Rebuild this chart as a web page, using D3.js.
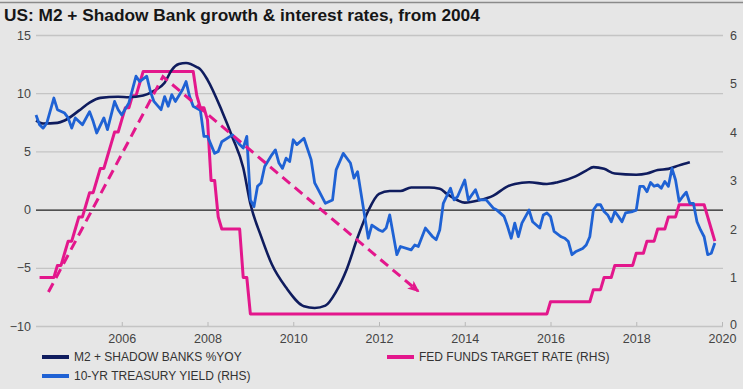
<!DOCTYPE html>
<html>
<head>
<meta charset="utf-8">
<script src="https://cdn.jsdelivr.net/npm/d3@7/dist/d3.min.js"></script>
<style>
  html, body { margin: 0; padding: 0; background: #e6e6e6; }
  svg { display: block; font-family: "Liberation Sans", Arial, sans-serif; }
</style>
</head>
<body>
<svg id="chart" width="743" height="389"></svg>
<script>
// ---- Data -------------------------------------------------------------
// M2 + shadow banks, % year on year (left axis)
const m2Dates = ["2004-01","2004-03","2004-07","2004-09","2005-01","2005-04","2005-07","2005-12",
  "2006-03","2006-07","2006-10","2007-01","2007-03","2007-05","2007-07","2007-10","2007-11",
  "2008-01","2008-05","2008-08","2008-11","2009-01","2009-04","2009-07","2009-11",
  "2010-04","2010-07","2010-10","2011-01","2011-04","2011-07","2011-10",
  "2012-01","2012-04","2012-07","2012-10","2013-03","2013-06","2013-08","2013-11",
  "2014-01","2014-05","2014-09","2015-01","2015-03","2015-07","2015-12",
  "2016-03","2016-08","2016-11","2017-01","2017-04","2017-07",
  "2018-01","2018-04","2018-07","2018-10","2019-01","2019-04"];
const m2Values = [7.65,7.4,7.45,7.65,8.5,9.2,9.6,9.7,
  9.65,9.8,10.2,10.9,12.0,12.5,12.6,12.25,12.05,
  11.15,8.5,6.2,3.6,0.5,-2.3,-4.7,-6.7,
  -8.3,-8.45,-8.25,-7.05,-5.1,-2.4,-0.1,
  1.35,1.6,1.6,1.9,1.9,1.8,1.35,0.8,
  0.6,0.8,1.2,2.0,2.2,2.35,2.2,
  2.35,2.85,3.35,3.65,3.5,3.1,
  3.0,3.1,3.4,3.5,3.8,4.07];

// 10-year Treasury yield, % (right axis)
const tsyDates = ["2004-01","2004-02","2004-03","2004-04","2004-06","2004-07","2004-09","2004-10","2004-11","2004-12",
  "2005-02","2005-04","2005-05","2005-06","2005-08","2005-09","2005-11","2005-12",
  "2006-01","2006-03","2006-05","2006-06","2006-08","2006-09","2006-10","2006-12",
  "2007-01","2007-02","2007-03","2007-04","2007-06","2007-07","2007-08","2007-09","2007-11","2007-12",
  "2008-01","2008-03","2008-04","2008-05","2008-08","2008-10","2008-11","2008-12",
  "2009-01","2009-02","2009-03","2009-04","2009-05","2009-07","2009-08","2009-09","2009-10","2009-11","2009-12",
  "2010-01","2010-02","2010-04","2010-06","2010-07","2010-08","2010-10","2010-12",
  "2011-01","2011-03","2011-05","2011-06","2011-07","2011-09","2011-10","2011-11",
  "2012-01","2012-02","2012-03","2012-04","2012-06","2012-07","2012-10","2012-11","2012-12",
  "2013-02","2013-04","2013-05","2013-06","2013-07","2013-09","2013-10","2013-11",
  "2014-01","2014-02","2014-04","2014-05","2014-07","2014-09","2014-10","2014-12",
  "2015-01","2015-02","2015-03","2015-04","2015-05","2015-07","2015-08","2015-10","2015-11","2015-12",
  "2016-01","2016-02","2016-04","2016-05","2016-06","2016-07","2016-08","2016-10","2016-11","2016-12",
  "2017-01","2017-02","2017-03","2017-04","2017-05","2017-06","2017-07","2017-08","2017-09","2017-10","2017-12",
  "2018-01","2018-02","2018-03","2018-04","2018-05","2018-06","2018-07","2018-08","2018-09","2018-10","2018-11","2018-12",
  "2019-01","2019-02","2019-03","2019-04","2019-05","2019-06","2019-07","2019-08","2019-09","2019-10","2019-11"];
const tsyValues = [4.35,4.15,4.08,4.18,4.70,4.46,4.39,4.29,4.08,4.29,
  4.15,4.42,4.22,3.98,4.29,4.05,4.63,4.46,
  4.35,4.60,5.15,5.04,5.15,4.84,4.63,4.46,
  4.73,4.53,4.77,4.63,4.87,5.04,4.73,4.53,4.45,3.91,
  3.91,3.56,3.60,3.80,3.94,3.74,3.67,3.91,
  2.60,2.46,2.88,2.95,3.29,3.53,3.63,3.36,3.25,3.46,3.39,
  3.84,3.74,3.87,3.43,2.95,2.81,2.53,2.60,
  3.22,3.56,3.36,3.05,3.18,2.26,1.81,2.08,
  1.98,1.95,2.02,2.29,1.47,1.64,1.57,1.67,1.64,
  2.02,1.84,1.78,1.98,2.53,2.84,2.60,2.67,
  3.01,2.60,2.81,2.60,2.60,2.43,2.39,2.26,
  2.05,1.81,2.12,1.84,2.12,2.39,2.15,2.02,2.29,2.33,
  2.26,1.95,1.84,1.81,1.74,1.47,1.53,1.60,1.67,1.84,
  2.39,2.50,2.50,2.36,2.29,2.15,2.36,2.26,2.15,2.33,2.36,
  2.39,2.88,2.88,2.77,2.96,2.88,2.91,2.84,2.98,2.88,3.25,3.01,
  2.57,2.67,2.76,2.53,2.53,2.15,1.98,1.84,1.47,1.50,1.71];

// Fed funds target rate, % (right axis) - monthly points where the level changes
const ffrDates = ["2004-02","2004-06","2004-07","2004-08","2004-09","2004-10","2004-11","2004-12",
  "2005-01","2005-02","2005-03","2005-04","2005-05","2005-06","2005-07","2005-08","2005-09","2005-10","2005-11","2005-12",
  "2006-01","2006-02","2006-03","2006-04","2006-05","2006-06","2006-07",
  "2007-09","2007-10","2007-11","2007-12","2008-01","2008-02","2008-03","2008-04","2008-05",
  "2008-10","2008-11","2008-12","2009-01","2015-12","2016-01","2016-12","2017-01","2017-03","2017-04",
  "2017-06","2017-07","2017-12","2018-01","2018-03","2018-04","2018-06","2018-07","2018-09","2018-10",
  "2018-12","2019-01","2019-08","2019-09","2019-10","2019-11"];
const ffrValues = [1.0,1.0,1.25,1.25,1.5,1.75,1.75,2.0,
  2.25,2.25,2.5,2.75,2.75,3.0,3.25,3.25,3.5,3.75,4.0,4.0,
  4.25,4.5,4.5,4.75,4.75,5.0,5.25,
  5.25,4.75,4.5,4.5,4.25,3.0,3.0,2.25,2.0,
  2.0,1.0,1.0,0.25,0.25,0.5,0.5,0.75,0.75,1.0,
  1.0,1.25,1.25,1.5,1.5,1.75,1.75,2.0,2.0,2.25,
  2.25,2.5,2.5,2.25,2.0,1.75];

// Hand-drawn trend annotation (decimal years, right-axis units)
const trendYears = [2004.29, 2006.96, 2012.91];
const trendRates = [0.70, 5.14, 0.72];

const leftTicks = [-10, -5, 0, 5, 10, 15];
const rightTicks = [0, 1, 2, 3, 4, 5, 6];
const yearTicks = [2006, 2008, 2010, 2012, 2014, 2016, 2018, 2020];

const titleText = "US: M2 + Shadow Bank growth & interest rates, from 2004";
const legendItems = [
  { label: "M2 + SHADOW BANKS %YOY", color: "#0f1c5e", col: 0, row: 0 },
  { label: "10-YR TREASURY YIELD (RHS)", color: "#1f62d4", col: 0, row: 1 },
  { label: "FED FUNDS TARGET RATE (RHS)", color: "#e3178c", col: 1, row: 0 }
];

// ---- Helpers ----------------------------------------------------------
const toYear = s => { const [y, m] = s.split("-").map(Number); return y + (m - 1) / 12; };
const zip = (dates, vals) => dates.map((d, i) => ({ t: toYear(d), v: vals[i] }));

const m2 = zip(m2Dates, m2Values);
const tsy = zip(tsyDates, tsyValues);
const ffr = zip(ffrDates, ffrValues);
const trend = trendYears.map((t, i) => ({ t, v: trendRates[i] }));

// ---- Layout -----------------------------------------------------------
const svg = d3.select("#chart");
const plot = { left: 36, right: 722, top: 35, bottom: 326 };

const x = d3.scaleLinear().domain([2004, 2020]).range([plot.left, plot.right]);
const yL = d3.scaleLinear().domain([-10, 15]).range([plot.bottom, plot.top]);
const yR = d3.scaleLinear().domain([0, 6]).range([plot.bottom, plot.top]);

// frame line and title
svg.append("line").attr("x1", 0).attr("x2", 743).attr("y1", 2.5).attr("y2", 2.5)
  .attr("stroke", "#8a8a8a").attr("stroke-width", 1.5);
svg.append("text").attr("x", 4).attr("y", 21)
  .attr("font-size", 17.3).attr("font-weight", "bold").attr("fill", "#161616")
  .text(titleText);

const axisFont = "Liberation Sans, Arial, sans-serif";

// left axis with gridlines
const gL = svg.append("g").attr("transform", `translate(${plot.left},0)`)
  .call(d3.axisLeft(yL).tickValues(leftTicks).tickFormat(d3.format("d"))
    .tickSize(-(plot.right - plot.left + 1)).tickPadding(5));
gL.select(".domain").remove();
gL.selectAll(".tick line")
  .attr("stroke", d => d === 0 ? "#1e1e1e" : "#c4c4c4")
  .attr("stroke-width", d => d === 0 ? 1.2 : 1.3);
gL.selectAll(".tick text").attr("font-size", 12.5).attr("fill", "#444").attr("font-family", axisFont);

// right axis labels
const gR = svg.append("g").attr("transform", `translate(${plot.right},0)`)
  .call(d3.axisRight(yR).tickValues(rightTicks).tickFormat(d3.format("d")).tickSize(0).tickPadding(8));
gR.select(".domain").remove();
gR.selectAll(".tick text").attr("font-size", 12.5).attr("fill", "#444").attr("font-family", axisFont)
  .attr("dy", d => d === 0 ? "0.2em" : "0.32em");

// bottom axis
const gB = svg.append("g").attr("transform", `translate(0,${plot.bottom})`)
  .call(d3.axisBottom(x).tickValues(yearTicks).tickFormat(d3.format("d"))
    .tickSizeInner(-4).tickSizeOuter(0).tickPadding(8));
gB.select(".domain").remove();
gB.selectAll(".tick line").attr("stroke", "#b8b8b8");
gB.selectAll(".tick text").attr("font-size", 12.5).attr("fill", "#444").attr("font-family", axisFont);

// ---- Series -----------------------------------------------------------
const lineR = d3.line().x(d => x(d.t)).y(d => yR(d.v));
const lineL = d3.line().x(d => x(d.t)).y(d => yL(d.v)).curve(d3.curveMonotoneX);

svg.append("path").datum(ffr).attr("d", lineR)
  .attr("fill", "none").attr("stroke", "#e3178c").attr("stroke-width", 3)
  .attr("stroke-linejoin", "round");

svg.append("path").datum(m2).attr("d", lineL)
  .attr("fill", "none").attr("stroke", "#0f1c5e").attr("stroke-width", 2.6)
  .attr("stroke-linejoin", "round");

svg.append("path").datum(tsy).attr("d", lineR)
  .attr("fill", "none").attr("stroke", "#1f62d4").attr("stroke-width", 2.8)
  .attr("stroke-linejoin", "round");

// dashed trend with arrowhead
svg.append("defs").append("marker")
  .attr("id", "arrow").attr("viewBox", "0 0 12 10")
  .attr("refX", 10).attr("refY", 5)
  .attr("markerWidth", 12).attr("markerHeight", 10)
  .attr("markerUnits", "userSpaceOnUse").attr("orient", "auto")
  .append("path").attr("d", "M0,0 L12,5 L0,10 L3,5 Z").attr("fill", "#e3178c");

svg.append("path").datum(trend).attr("d", lineR)
  .attr("fill", "none").attr("stroke", "#e3178c").attr("stroke-width", 3)
  .attr("stroke-dasharray", "10,6").attr("marker-end", "url(#arrow)");

// ---- Legend -----------------------------------------------------------
const legend = svg.append("g");
const colX = [42, 387], rowY = [357, 376];
legendItems.forEach(item => {
  const lx = colX[item.col], ly = rowY[item.row];
  legend.append("line").attr("x1", lx).attr("x2", lx + 27).attr("y1", ly).attr("y2", ly)
    .attr("stroke", item.color).attr("stroke-width", 4);
  legend.append("text").attr("x", lx + 32).attr("y", ly).attr("dy", "0.35em")
    .attr("font-size", 12).attr("fill", "#333").text(item.label);
});
</script>
</body>
</html>
